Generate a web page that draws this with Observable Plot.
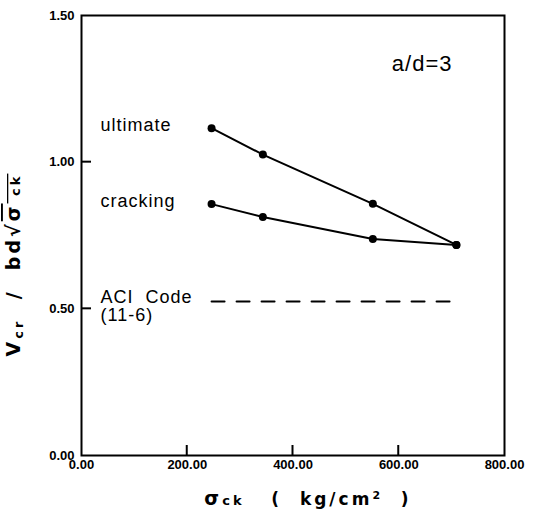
<!DOCTYPE html>
<html><head><meta charset="utf-8">
<script src="https://cdn.jsdelivr.net/npm/d3@7"></script>
<script src="https://cdn.jsdelivr.net/npm/@observablehq/plot@0.6"></script>
<style>body{margin:0;background:#fff}</style>
</head><body><div id="chart"></div>
<script>
// ---- data ----
const fck = [246, 343, 551, 709];
const ultimate = [1.116, 1.026, 0.858, 0.718];
const cracking = [0.857, 0.813, 0.738, 0.718];
const aciCode = 0.525;
const aciRange = [246, 709];
const seriesNames = ["ultimate", "cracking"];
const aciLabel = "ACI  Code\n(11-6)";
const ratioLabel = "a/d=3";
const xTicks = [0, 200, 400, 600, 800];
const yTicks = [0, 0.5, 1.0, 1.5];
const xInnerTicks = [200, 400, 600];
const yInnerTicks = [0.5, 1.0];

// ---- tables built from the arrays ----
const seriesValues = [ultimate, cracking];
const rows = [];
seriesNames.forEach((s, k) => fck.forEach((x, i) => rows.push({series: s, x, y: seriesValues[k][i]})));
const aciRows = aciRange.map(x => ({x, y: aciCode}));
const firsts = seriesNames.map(s => rows.find(r => r.series === s));

const tickLen = 10;
const font = "'Liberation Sans', Arial, sans-serif";
const plot = Plot.plot({
  width: 544, height: 511,
  marginLeft: 81, marginRight: 40, marginTop: 15, marginBottom: 56,
  style: {fontFamily: font, background: "white", color: "black"},
  x: {domain: [0, 800], label: null},
  y: {domain: [0, 1.5], label: null},
  marks: [
    Plot.frame({stroke: "black", strokeWidth: 2}),
    Plot.axisX({ticks: xTicks, tickSize: 0, tickPadding: 4, tickFormat: d3.format(".2f"), fontSize: 13, fontWeight: "bold", label: null}),
    Plot.axisY({ticks: yTicks, tickSize: 0, tickPadding: 7, tickFormat: d3.format(".2f"), fontSize: 13, fontWeight: "bold", label: null}),
    Plot.line(rows, {x: "x", y: "y", z: "series", stroke: "black", strokeWidth: 2}),
    Plot.dot(rows, {x: "x", y: "y", r: 4, fill: "black"}),
    Plot.line(aciRows, {x: "x", y: "y", stroke: "black", strokeWidth: 2, strokeDasharray: "13,12"}),
    Plot.text(firsts, {x: "x", y: "y", text: "series", textAnchor: "start", dx: -111, dy: -3, fontSize: 18}),
    Plot.text([aciRows[0]], {x: "x", y: "y", text: () => aciLabel, textAnchor: "start", lineAnchor: "top", dx: -111, dy: -11, fontSize: 18, lineHeight: 1.0}),
    Plot.text([ratioLabel], {frameAnchor: "top-right", text: d => d, textAnchor: "end", lineAnchor: "top", dx: -52, dy: 40, fontSize: 22})
  ]
});
document.getElementById("chart").appendChild(plot);

const svg = d3.select(plot);
svg.selectAll("g[aria-label='text'] text").attr("letter-spacing", "1px");

// ---- inward tick marks, positioned with Plot's own scales ----
const sx = plot.scale("x"), sy = plot.scale("y");
const x0 = sx.apply(sx.domain[0]), y0 = sy.apply(sy.domain[0]);
const tg = svg.append("g").attr("stroke", "black").attr("stroke-width", 2);
xInnerTicks.forEach(v => tg.append("line")
  .attr("x1", sx.apply(v)).attr("x2", sx.apply(v))
  .attr("y1", y0).attr("y2", y0 - tickLen));
yInnerTicks.forEach(v => tg.append("line")
  .attr("x1", x0).attr("x2", x0 + tickLen)
  .attr("y1", sy.apply(v)).attr("y2", sy.apply(v)));

// ---- axis titles with sub/superscripts ----
const tf = "'DejaVu Sans', sans-serif";
const xt = svg.append("text")
  .attr("x", 308).attr("y", 505)
  .attr("text-anchor", "middle")
  .attr("font-family", tf).attr("font-weight", "bold").attr("font-size", 17)
  .attr("letter-spacing", "3px")
  .attr("fill", "black").attr("xml:space", "preserve");
xt.append("tspan").text("σ").attr("font-size", 19);
xt.append("tspan").text("ck").attr("font-size", 13);
xt.append("tspan").text("   (  kg/cm");
xt.append("tspan").text("2").attr("font-size", 11).attr("dy", -6);
xt.append("tspan").text("  )").attr("dy", 6);

const yt = svg.append("text")
  .attr("transform", "translate(20,265) rotate(-90)")
  .attr("text-anchor", "middle")
  .attr("font-family", tf).attr("font-weight", "bold").attr("font-size", 19)
  .attr("letter-spacing", "3px")
  .attr("fill", "black").attr("xml:space", "preserve");
yt.append("tspan").text("V");
yt.append("tspan").text("cr").attr("font-size", 13).attr("dy", 3);
yt.append("tspan").text("  /  bd").attr("dy", -3);
yt.append("tspan").text("√");
yt.append("tspan").text("σ").attr("text-decoration", "overline");
yt.append("tspan").text(" ck").attr("font-size", 13).attr("text-decoration", "overline");
</script>
</body></html>
